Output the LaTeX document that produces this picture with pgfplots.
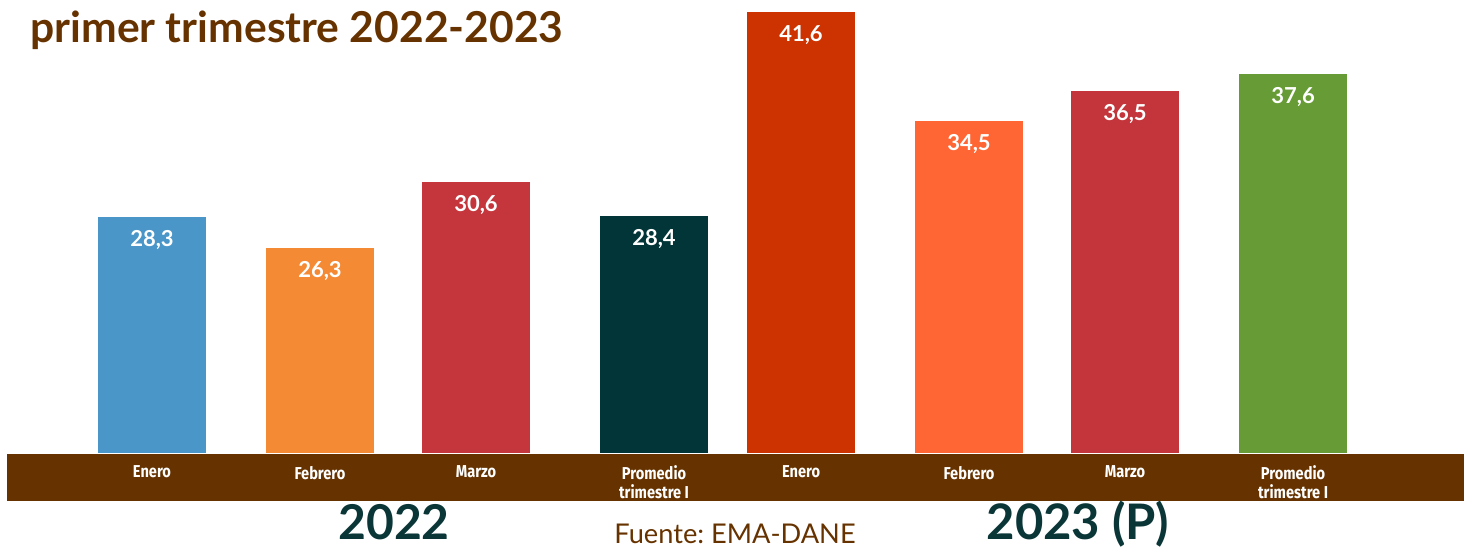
\documentclass[border=0pt]{standalone}
\usepackage{fontspec}
\setmainfont{Lato}
\newfontfamily\condfont{Fira Sans}[FakeStretch=0.85]
\usepackage{pgfplots}
\pgfplotsset{compat=1.18}
\definecolor{BandBrown}{HTML}{663300}
\definecolor{YearTeal}{HTML}{0B3638}
\definecolor{EneA}{HTML}{4A96C8}
\definecolor{FebA}{HTML}{F58A35}
\definecolor{MarA}{HTML}{C4363C}
\definecolor{ProA}{HTML}{023538}
\definecolor{EneB}{HTML}{CC3300}
\definecolor{FebB}{HTML}{FF6633}
\definecolor{MarB}{HTML}{C3353B}
\definecolor{ProB}{HTML}{679B35}

\begin{document}
\frenchspacing
\begin{tikzpicture}
% brown band under the categories (1 px = 0.5bp, y counted from the top)
\begin{scope}[x=0.5bp,y=-0.5bp]
  \fill[BandBrown] (7,454) rectangle (1464,501);
  \fill[BandBrown] (1420,454) rectangle (1464,501);
\end{scope}
\begin{axis}[
  at={(0bp,-226.5bp)}, anchor=south west,
  scale only axis,
  width=732bp, height=220.5bp,
  xmin=0, xmax=14.64,
  ymin=13, ymax=41.6,
  axis line style={draw=none},
  ytick=\empty,
  xtick={1.52,3.20,4.76,6.54,8.01,9.69,11.25,12.93},
  xticklabels={Enero,Febrero,Marzo,{Promedio\\trimestre I},
               Enero,Febrero,Marzo,{Promedio\\trimestre I}},
  major tick length=0pt,
  xticklabel style={font=\condfont\bfseries\fontsize{8.6bp}{9.2bp}\selectfont,
                    text=white, align=center, anchor=north,
                    inner sep=0pt, yshift=-6.3bp},
  ybar, bar width=54bp, bar shift=0pt,
  /pgf/number format/assume math mode=true,
  nodes near coords={\pgfmathprintnumber[use comma,fixed,fixed zerofill,precision=1]{\pgfplotspointmeta}},
  nodes near coords style={font=\bfseries\fontsize{11bp}{12bp}\selectfont,
                           text=white, anchor=north, inner sep=0pt, yshift=-6.5bp},
]
\addplot[fill=EneA, draw=none] coordinates {(1.52,28.3)};
\addplot[fill=FebA, draw=none] coordinates {(3.20,26.3)};
\addplot[fill=MarA, draw=none] coordinates {(4.76,30.6)};
\addplot[fill=ProA, draw=none] coordinates {(6.54,28.4)};
\addplot[fill=EneB, draw=none] coordinates {(8.01,41.6)};
\addplot[fill=FebB, draw=none] coordinates {(9.69,34.5)};
\addplot[fill=MarB, draw=none] coordinates {(11.25,36.5)};
\addplot[fill=ProB, draw=none] coordinates {(12.93,37.6)};
\end{axis}
\begin{scope}[x=0.5bp,y=-0.5bp]
  \node[anchor=base west, inner sep=0pt, text=BandBrown,
        font=\bfseries\fontsize{21.3bp}{24bp}\selectfont] at (30,43) {primer trimestre 2022-2023};
  \node[anchor=base, inner sep=0pt, text=YearTeal,
        font=\bfseries\fontsize{24bp}{28bp}\selectfont] at (394,539) {2022};
  \node[anchor=base, inner sep=0pt, text=BandBrown,
        font=\fontsize{13.6bp}{15bp}\selectfont] at (735,543) {Fuente: EMA-DANE};
  \node[anchor=base, inner sep=0pt, text=YearTeal,
        font=\bfseries\fontsize{24.5bp}{28bp}\selectfont] at (1078,539) {2023 (P)};
  \pgfresetboundingbox
  \path (0,0) rectangle (1464,547);
\end{scope}
\end{tikzpicture}
\end{document}
